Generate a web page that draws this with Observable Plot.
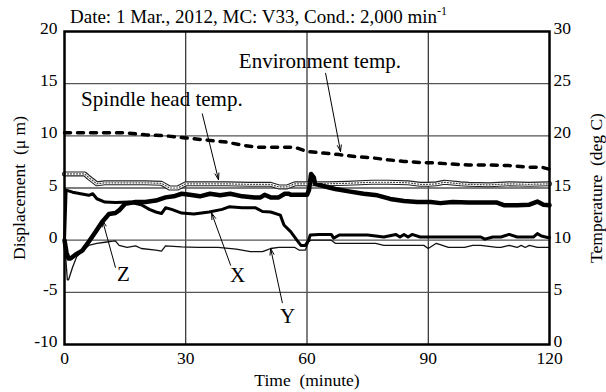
<!DOCTYPE html>
<html><head><meta charset="utf-8">
<script src="https://cdn.jsdelivr.net/npm/d3@7"></script>
<script src="https://cdn.jsdelivr.net/npm/@observablehq/plot@0.6"></script>
<style>body{margin:0;background:#fff;} svg{display:block} svg text{font-family:'Liberation Serif','Times New Roman',serif !important;}</style>
</head><body><div id="chart"></div>
<script>
const titleText = "Date: 1 Mar., 2012, MC: V33, Cond.: 2,000 min";
const titleSup = "-1";
const xTicks = [0, 30, 60, 90, 120];
const yTicks = [-10, -5, 0, 5, 10, 15, 20];
const tempOffset = 10; // right axis: temperature = displacement + 10

// Z displacement (um)
const zTime = [0,0.5,1,1.5,2.7,4.4,6,7.7,9.3,11,12.6,13.5,15,17.6,20,22.6,25,27,29,31,33.5,36,38.5,41,44,47,48.5,49.5,51,53,54.5,55.5,56,58,60,60.5,61,61.7,62,65,67,70.7,74,77.4,80.6,84,87.3,90.6,93,96,100,104,107,108.7,112,115,117,118.5,120];
const zDisp = [0,-1.2,-1.75,-1.75,-1.4,-1.0,-0.15,0.8,1.75,2.5,2.6,2.85,3.5,3.65,3.65,3.8,4.1,4.2,4.45,4.35,4.2,4.45,4.3,4.45,4.2,4.1,4.1,4.35,4.1,4.1,4.45,4.45,4.35,4.35,4.35,4.8,6.35,6.0,5.4,5.1,4.9,4.65,4.45,4.3,3.95,3.75,3.65,3.65,3.55,3.65,3.6,3.6,3.6,3.35,3.35,3.4,3.7,3.4,3.35];

// X displacement (um)
const xTime = [0,0.4,2,4,6,7,8,10,12.6,16,19,21,22.6,24,25,26.5,29,32,35.8,39,40.7,44,47.3,49,51,53.4,54.3,56,57.5,58.5,59.6,60.4,60.8,63,66,66.6,68,75,79,82,83,84,85,86,88,93,103,104,106,108,110,112,114,116,117,118,119.5,120];
const xDisp = [0,4.8,4.6,4.45,4.3,4.45,3.97,3.65,3.6,3.65,3.4,2.95,2.7,2.55,3.1,2.95,2.6,2.5,2.7,2.95,3.2,3.1,3.1,2.75,2.7,2.4,1.45,0.8,0,-0.5,-0.5,0,0.5,0.55,0.55,0.2,0.5,0.5,0.3,0.55,0.3,0.55,0.3,0.55,0.3,0.3,0.3,0.1,0.3,0.3,0.55,0.3,0.3,0.3,0.63,0.4,0.25,0.25];

// Y displacement (um)
const yTime = [0,0.7,1,2,3,4.5,6,8,10,12,12.6,13.5,15.5,17.6,19,22.6,24,25,29,33,38,42.5,46,49,50,51,53,57,58,59.6,60.4,61,66,67,77,79,88.9,90,92,95,99,101,103,107,108,110,112,113,114,115,117,120];
const yDisp = [0,-3.8,-3.8,-2.6,-1.6,-1.0,-0.5,-0.3,-0.2,-0.1,-0.06,-0.5,-0.7,-0.55,-0.8,-0.95,-1.05,-0.55,-0.65,-0.7,-0.7,-0.85,-1.1,-1.1,-0.95,-0.8,-0.7,-0.7,-0.95,-0.95,-0.15,0,0,-0.3,-0.3,-0.5,-0.5,-0.8,-0.3,-0.7,-0.7,-0.5,-0.5,-0.7,-0.7,-0.5,-0.7,-0.5,-0.7,-0.5,-0.7,-0.7];

// Environment temperature (deg C)
const envTime = [0,5,10,15,20,25,30,35,40,44,48,52,57,60,64,68,72,76,80,84,88,92,95.5,100,105,110,115,118,120];
const envTemp = [20.3,20.3,20.3,20.3,20.1,20.0,19.8,19.6,19.4,19.1,18.9,18.9,18.9,18.5,18.35,18.2,18.0,17.9,17.7,17.55,17.45,17.4,17.3,17.2,17.2,17.15,17.0,17.0,16.8];

// Spindle head temperature (deg C)
const spTime = [0,5,6,8,10,15,20,24,26,28,30,35,40,46,51,53,55,57,60,65,70,76,80,85,88,90,92,94,98,100,105,110,115,120];
const spTemp = [16.35,16.35,16.0,15.4,15.5,15.5,15.5,15.45,15.0,15.0,15.4,15.4,15.4,15.35,15.35,15.1,15.1,15.4,15.4,15.4,15.45,15.55,15.55,15.5,15.35,15.35,15.4,15.55,15.4,15.35,15.3,15.4,15.35,15.4];

// annotations
const annText = ["Environment temp.", "Spindle head temp.", "Z", "X", "Y"];
const annT = [63.2, 24.1, 14.6, 42.8, 55.2];
const annV = [17.1, 13.5, -3.3, -3.4, -7.3];
const arrT1 = [64.6, 34.1, 12.6, 41.1, 53.9];
const arrV1 = [16.0, 12.1, -2.6, -2.4, -6.0];
const arrT2 = [68.3, 38.1, 9.4, 36.4, 51.0];
const arrV2 = [8.5, 5.8, 1.9, 2.6, -0.8];

const serif = "'Liberation Serif', 'Times New Roman', serif";
const envDisp = envTemp.map(v => v - tempOffset);
const spDisp = spTemp.map(v => v - tempOffset);

const chart = Plot.plot({
  width: 606, height: 392,
  marginLeft: 64, marginRight: 57, marginTop: 31, marginBottom: 48,
  style: {fontFamily: serif, fontSize: "17.5px", color: "#000", background: "#fff"},
  x: {domain: [0, 120]},
  y: {domain: [-10, 20]},
  marks: [
    Plot.gridX(xTicks.slice(1, -1), {stroke: "#000", strokeOpacity: 1, strokeWidth: 1}),
    Plot.gridY(yTicks.slice(1, -1), {stroke: "#555", strokeOpacity: 1, strokeWidth: 1.3}),
    Plot.axisX(xTicks, {tickSize: 0, tickPadding: 7, fontSize: 17.5, tickFormat: d => String(d), label: "Time\u2002(minute)", labelAnchor: "center", labelOffset: 41, labelArrow: "none"}),
    Plot.axisY(yTicks, {anchor: "left", tickSize: 0, tickPadding: 7, dy: -3, fontSize: 17.5, tickFormat: d => String(d), label: "Displacement\u2002(\u03bc m)", labelAnchor: "center", labelOffset: 52, labelArrow: "none"}),
    Plot.axisY(yTicks, {anchor: "right", tickSize: 0, tickPadding: 4, dy: -3, fontSize: 17.5, tickFormat: d => String(d + tempOffset), label: "Temperature\u2002(deg C)", labelAnchor: "center", labelOffset: 52, labelArrow: "none"}),
    // environment temp (dashed)
    Plot.line(envTime, {x: envTime, y: envDisp, stroke: "#000", strokeWidth: 3.5, strokeDasharray: "6,7"}),
    // spindle head temp (hatched double line)
    Plot.line(spTime, {x: spTime, y: spDisp, stroke: "#222", strokeWidth: 5}),
    Plot.line(spTime, {x: spTime, y: spDisp, stroke: "#fff", strokeWidth: 2.8}),
    Plot.line(spTime, {x: spTime, y: spDisp, stroke: "#444", strokeWidth: 1.2, strokeDasharray: "1,2"}),
    // displacements
    Plot.line(yTime, {x: yTime, y: yDisp, stroke: "#111", strokeWidth: 1.3}),
    Plot.line(xTime, {x: xTime, y: xDisp, stroke: "#000", strokeWidth: 3}),
    Plot.line(zTime, {x: zTime, y: zDisp, stroke: "#000", strokeWidth: 4.5}),
    // annotations
    Plot.arrow(arrT1, {x1: arrT1, y1: arrV1, x2: arrT2, y2: arrV2, stroke: "#000", strokeWidth: 1, headLength: 10, headAngle: 35}),
    Plot.text(annText, {x: annT, y: annV, text: annText, fontSize: 21, fill: "#000", fontFamily: serif}),
    Plot.frame({stroke: "#000", strokeWidth: 2.5})
  ]
});

const svg = d3.select(chart);
const t = svg.append("text")
  .attr("x", 70).attr("y", 23)
  .attr("text-anchor", "start")
  .attr("font-size", 19).attr("fill", "#000")
  .text(titleText);
t.append("tspan").attr("dy", -8).attr("font-size", 12).text(titleSup);
svg.selectAll("text").attr("font-family", serif).style("font-family", serif).attr("font-weight", "normal").style("font-variant", "normal");
svg.selectAll("g").attr("font-family", serif).attr("font-weight", null);

document.getElementById("chart").appendChild(chart);
</script>
</body></html>
